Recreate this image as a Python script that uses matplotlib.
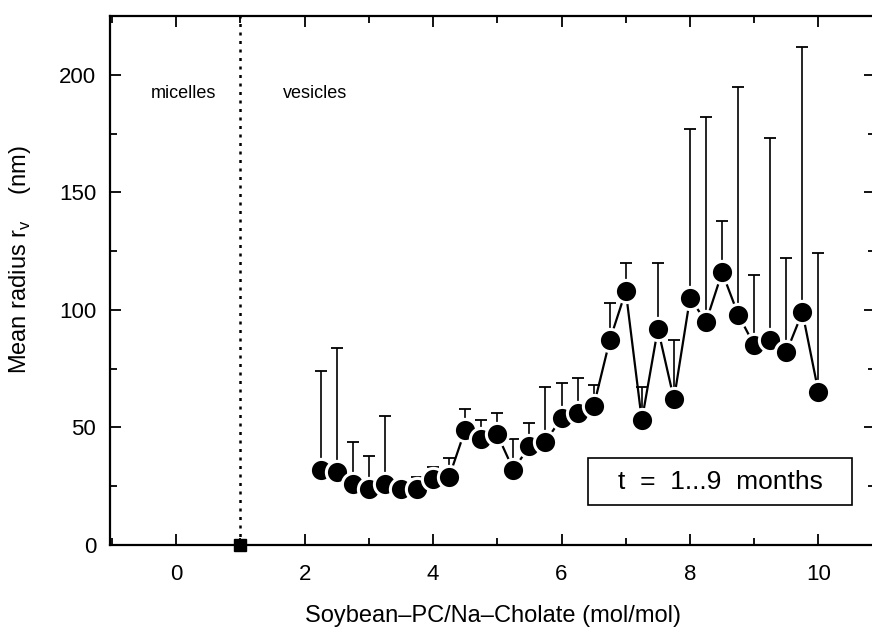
import matplotlib.pyplot as plt
from matplotlib.patches import Rectangle
from matplotlib.ticker import MultipleLocator

plt.rcParams['font.family'] = ['Liberation Sans', 'DejaVu Sans']

# ratio (mol/mol), mean radius (nm), top of error bar (nm)
ratio = [2.25, 2.5, 2.75, 3.0, 3.25, 3.5, 3.75, 4.0, 4.25, 4.5, 4.75, 5.0,
         5.25, 5.5, 5.75, 6.0, 6.25, 6.5, 6.75, 7.0, 7.25, 7.5, 7.75, 8.0,
         8.25, 8.5, 8.75, 9.0, 9.25, 9.5, 9.75, 10.0]
radius = [32, 31, 26, 24, 26, 24, 24, 28, 29, 49, 45, 47,
          32, 42, 44, 54, 56, 59, 87, 108, 53, 92, 62, 105,
          95, 116, 98, 85, 87, 82, 99, 65]
err_top = [74, 84, 44, 38, 55, 28, 29, 33, 37, 58, 53, 56,
           45, 52, 67, 69, 71, 68, 103, 120, 67, 120, 87, 177,
           182, 138, 195, 115, 173, 122, 212, 124]

upper = [t - r for t, r in zip(err_top, radius)]
lower = [0] * len(radius)

fig = plt.figure(figsize=(8.72, 6.32), dpi=100)
ax = fig.add_axes([110 / 872, 87 / 632, 765 / 872, 529 / 632])

# error bars (upward only)
ax.errorbar(ratio, radius, yerr=[lower, upper], fmt='none', ecolor='black',
            elinewidth=1.2, capsize=4.5, capthick=1.3, zorder=2)
# connecting line + markers with white rim
ax.plot(ratio, radius, color='black', lw=1.6, zorder=3)
ax.plot(ratio, radius, 'o', color='black', ms=16, mec='white', mew=2.2, zorder=4)

# micelle / vesicle boundary
ax.axvline(1.0, color='black', ls=(0, (1.2, 2.2)), lw=1.8, zorder=1)
ax.plot([1.0], [0], 's', color='black', ms=8, clip_on=False, zorder=5)

ax.text(0.12, 192, 'micelles', ha='center', va='center', fontsize=13)
ax.text(1.67, 192, 'vesicles', ha='left', va='center', fontsize=13)

# annotation box
ax.add_patch(Rectangle((0.625, 0.075), 0.345, 0.165 - 0.075, transform=ax.transAxes,
                       fc='white', ec='black', lw=1.2, zorder=6))
ax.text(0.7975, 0.12, 't  =  1...9  months', transform=ax.transAxes,
        ha='center', va='center', fontsize=19, zorder=7)

ax.set_xlim(-1.03, 10.88)
ax.set_ylim(0, 225)
ax.xaxis.set_major_locator(MultipleLocator(2))
ax.xaxis.set_minor_locator(MultipleLocator(1))
ax.yaxis.set_major_locator(MultipleLocator(50))
ax.yaxis.set_minor_locator(MultipleLocator(25))
ax.tick_params(which='both', direction='in', top=True, right=True,
               width=1.3, labelsize=16)
ax.tick_params(axis='x', pad=14)
ax.tick_params(axis='y', pad=10)
ax.tick_params(which='major', length=8)
ax.tick_params(which='minor', length=5)
for s in ax.spines.values():
    s.set_linewidth(1.6)

ax.set_xlabel('Soybean\u2013PC/Na\u2013Cholate (mol/mol)', fontsize=17, labelpad=14)
ax.set_ylabel('Mean radius r$_\\mathregular{v}$    (nm)', fontsize=17)
ax.yaxis.set_label_coords(-0.1, 0.54)

fig.savefig('out.png', dpi=100)
